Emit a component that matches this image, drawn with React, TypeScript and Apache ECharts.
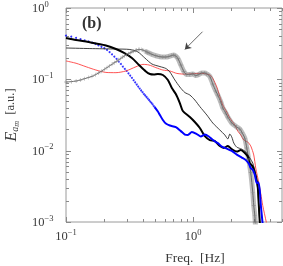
import React, { useEffect, useRef } from "react";
import * as echarts from "echarts";

// ---------- data (frequency in Hz, energy in a.u.) ----------
const blueDotFreq = [
  0.10, 0.11, 0.12, 0.13, 0.14, 0.15, 0.16, 0.17, 0.18, 0.19,
  0.20, 0.21, 0.22, 0.23, 0.24, 0.25, 0.26, 0.27, 0.28, 0.29,
  0.30, 0.31, 0.32, 0.33, 0.34, 0.35, 0.36, 0.37, 0.38, 0.39,
  0.40, 0.41, 0.42, 0.43, 0.44, 0.45, 0.46, 0.47, 0.48, 0.49, 0.50,
];
const blueDotValues = [
  0.411, 0.396, 0.382, 0.365, 0.351, 0.339, 0.328, 0.313, 0.300, 0.286,
  0.273, 0.258, 0.240, 0.224, 0.208, 0.193, 0.177, 0.164, 0.151, 0.140,
  0.131, 0.121, 0.113, 0.105, 0.0971, 0.0905, 0.0846, 0.0790, 0.0741, 0.0697,
  0.0659, 0.0622, 0.0593, 0.0565, 0.0538, 0.0513, 0.0487, 0.0466, 0.0445, 0.0422, 0.0405,
];
const blueLine: [number, number][] = [
  [0.50, 0.0405], [0.528, 0.0354], [0.548, 0.0316], [0.578, 0.0269], [0.610, 0.0240],
  [0.656, 0.0225], [0.731, 0.0214], [0.801, 0.0188], [0.861, 0.0168], [0.909, 0.0166],
  [0.977, 0.0182], [1.069, 0.0171], [1.149, 0.0158], [1.236, 0.0168], [1.328, 0.0158],
  [1.428, 0.0141], [1.563, 0.0128], [1.681, 0.0114], [1.839, 0.0107], [2.014, 0.0099],
  [2.205, 0.0088], [2.413, 0.0080], [2.594, 0.0074], [2.739, 0.0066], [2.84, 0.0057],
  [2.944, 0.0054], [3.053, 0.0046], [3.166, 0.0035], [3.25, 0.0036], [3.342, 0.0028],
  [3.40, 0.0018], [3.467, 0.00125], [3.53, 0.0009],
];
const blackThick: [number, number][] = [
  [0.1, 0.380], [0.120, 0.356], [0.144, 0.339], [0.172, 0.318], [0.206, 0.298],
  [0.247, 0.266], [0.286, 0.234], [0.330, 0.199], [0.375, 0.159], [0.425, 0.129],
  [0.457, 0.119], [0.491, 0.117], [0.528, 0.119], [0.578, 0.115], [0.633, 0.098],
  [0.680, 0.0755], [0.731, 0.0622], [0.786, 0.0465], [0.830, 0.036], [0.942, 0.0296],
  [1.031, 0.0252], [1.129, 0.0208], [1.236, 0.0160], [1.353, 0.0141], [1.481, 0.0136],
  [1.621, 0.0116], [1.743, 0.0109], [1.873, 0.0116], [2.014, 0.0105], [2.204, 0.0097],
  [2.37, 0.0102], [2.547, 0.0093], [2.69, 0.0083], [2.789, 0.0067], [2.944, 0.0060],
  [3.108, 0.0044], [3.222, 0.0031], [3.28, 0.0018], [3.342, 0.0010], [3.37, 0.00088],
];
const blackThin: [number, number][] = [
  [0.1, 0.275], [0.154, 0.270], [0.247, 0.266], [0.318, 0.262], [0.368, 0.242],
  [0.417, 0.199], [0.474, 0.164], [0.548, 0.151], [0.610, 0.142], [0.656, 0.127],
  [0.718, 0.098], [0.786, 0.078], [0.861, 0.0653], [0.942, 0.0603], [1.031, 0.0513],
  [1.129, 0.0415], [1.282, 0.0316], [1.428, 0.0244], [1.621, 0.0195], [1.775, 0.0166],
  [1.873, 0.0146], [1.943, 0.0171], [2.014, 0.0155], [2.088, 0.0128], [2.204, 0.0112],
  [2.413, 0.0105], [2.594, 0.0096], [2.789, 0.0079], [2.944, 0.0067], [3.108, 0.0046],
  [3.222, 0.0028], [3.28, 0.0017], [3.342, 0.0010], [3.37, 0.00088],
];
const redLine: [number, number][] = [
  [0.1, 0.181], [0.120, 0.168], [0.144, 0.150], [0.172, 0.135], [0.206, 0.125],
  [0.247, 0.124], [0.296, 0.131], [0.355, 0.150], [0.403, 0.162], [0.449, 0.159],
  [0.509, 0.146], [0.578, 0.135], [0.656, 0.131], [0.745, 0.121], [0.892, 0.118],
  [1.069, 0.121], [1.192, 0.121], [1.353, 0.115], [1.428, 0.103], [1.536, 0.078],
  [1.621, 0.0574], [1.712, 0.0436], [1.839, 0.0348], [1.943, 0.0287], [2.127, 0.0229],
  [2.245, 0.0188], [2.37, 0.0166], [2.502, 0.0141], [2.69, 0.0132], [2.84, 0.0116],
  [2.998, 0.0087], [3.108, 0.0057], [3.28, 0.0036], [3.403, 0.0025], [3.528, 0.0017],
  [3.76, 0.0010], [3.85, 0.0008],
];
const grayLowFreq = [
  0.10, 0.11, 0.12, 0.13, 0.14, 0.15, 0.16, 0.17, 0.18, 0.19,
  0.20, 0.21, 0.22, 0.23, 0.24, 0.25, 0.26, 0.27, 0.28, 0.29,
  0.30, 0.31, 0.32, 0.33, 0.34, 0.35, 0.36, 0.37, 0.38, 0.39,
  0.40, 0.41, 0.42, 0.43, 0.44, 0.45,
];
const grayLowValues = [
  0.0916, 0.0928, 0.0947, 0.0978, 0.1019, 0.106, 0.1102, 0.1156, 0.1226, 0.1299,
  0.138, 0.1459, 0.1542, 0.1623, 0.1709, 0.1794, 0.1877, 0.1964, 0.2055, 0.215,
  0.222, 0.2286, 0.2353, 0.2415, 0.247, 0.2527, 0.2576, 0.2618, 0.2618, 0.261,
  0.2585, 0.2535, 0.2486, 0.243, 0.2384, 0.2338,
];
const grayHigh: [number, number][] = [
  [0.474, 0.224], [0.509, 0.214], [0.548, 0.2075], [0.578, 0.2055], [0.610, 0.2055],
  [0.644, 0.209], [0.680, 0.216], [0.705, 0.219], [0.731, 0.212], [0.759, 0.196],
  [0.801, 0.159], [0.845, 0.129], [0.892, 0.117], [0.942, 0.117], [0.995, 0.119],
  [1.050, 0.113], [1.109, 0.117], [1.170, 0.123], [1.236, 0.123], [1.282, 0.119],
  [1.353, 0.110], [1.428, 0.086], [1.508, 0.0685], [1.563, 0.0603], [1.65, 0.0481],
  [1.712, 0.0396], [1.807, 0.0337], [1.873, 0.0296], [2.014, 0.0244], [2.127, 0.0225],
  [2.204, 0.0214], [2.327, 0.0201], [2.413, 0.0182], [2.547, 0.0150], [2.642, 0.0109],
  [2.739, 0.0074], [2.84, 0.0049], [2.944, 0.0026], [2.998, 0.0017], [3.053, 0.00125],
  [3.08, 0.0010], [3.108, 0.00077],
];

const xMin = 0.1;
const xMax = 5;
const yMin = 0.001;
const yMax = 1;
const xMajorTicks = [0.1, 1];
const xMinorTicks = [0.2, 0.3, 0.4, 0.5, 0.6, 0.7, 0.8, 0.9, 2, 3, 4, 5];
const yMajorTicks = [0.001, 0.01, 0.1, 1];
const yMinorTicks = [
  0.002, 0.003, 0.004, 0.005, 0.006, 0.007, 0.008, 0.009,
  0.02, 0.03, 0.04, 0.05, 0.06, 0.07, 0.08, 0.09,
  0.2, 0.3, 0.4, 0.5, 0.6, 0.7, 0.8, 0.9,
];
const arrowFrom: [number, number] = [1.185, 0.465];
const arrowTo: [number, number] = [0.861, 0.263];

const SERIF = '"Liberation Serif", "DejaVu Serif", serif';
const TEXT = "#3a3a3a";
const TICK = "#8a8a8a";

const powLabel = (value: number) => {
  const e = Math.log10(value);
  const r = Math.round(e);
  if (Math.abs(e - r) > 1e-6) return "";
  const s = r < 0 ? "\u2212" + -r : String(r);
  return "{b|10}{s|" + s + "}";
};
const labelRich = {
  b: { fontFamily: SERIF, fontSize: 12.5, color: TEXT, lineHeight: 18 },
  s: { fontFamily: SERIF, fontSize: 8.5, color: TEXT, verticalAlign: "top", lineHeight: 10 },
};

const plusSymbol = "path://M4.5,0H5.5V4.5H10V5.5H5.5V10H4.5V5.5H0V4.5H4.5Z";

export default function App() {
  const ref = useRef<HTMLDivElement>(null);
  useEffect(() => {
    if (!ref.current) return;
    const chart = echarts.init(ref.current, null, { renderer: "svg" });
    const grayLow = grayLowFreq.map((f, i) => [f, grayLowValues[i]]);
    const grayAll = [...grayLow, ...grayHigh];
    const grayBand = [...grayLow.slice(32), ...grayHigh];
    const blueDots = blueDotFreq.map((f, i) => [f, blueDotValues[i]]);
    const xTickData = [
      ...xMajorTicks.map((v) => [v, yMin, 1]),
      ...xMinorTicks.map((v) => [v, yMin, 0]),
    ];
    const yTickData = [
      ...yMajorTicks.map((v) => [xMin, v, 1]),
      ...yMinorTicks.map((v) => [xMin, v, 0]),
    ];
    const lineBase = { type: "line", showSymbol: false, smooth: 0.25, silent: true, clip: true };

    chart.setOption({
      animation: false,
      grid: {
        left: 66, right: 1, top: 8, bottom: 44,
        show: true, borderColor: "#9a9a9a", borderWidth: 1,
        containLabel: false, outerBoundsMode: "none",
      },
      xAxis: {
        type: "log", logBase: 10, min: xMin, max: xMax,
        axisLine: { show: false }, axisTick: { show: false }, splitLine: { show: false },
        axisLabel: { formatter: powLabel, rich: labelRich, margin: 5 },
      },
      yAxis: {
        type: "log", logBase: 10, min: yMin, max: yMax,
        axisLine: { show: false }, axisTick: { show: false }, splitLine: { show: false },
        axisLabel: { formatter: powLabel, rich: labelRich, margin: 34, align: "left" },
        name: "{e|E}{a|a}{m|m}{t|  [a.u.]}",
        nameLocation: "middle", nameGap: 46, nameRotate: 90,
        nameTextStyle: {
          rich: {
            e: { fontFamily: SERIF, fontStyle: "italic", fontSize: 16, color: TEXT, lineHeight: 20 },
            a: { fontFamily: SERIF, fontStyle: "italic", fontSize: 10, color: TEXT, verticalAlign: "bottom", lineHeight: 12, padding: [0, 0, 1, 0] },
            m: { fontFamily: SERIF, fontStyle: "italic", fontSize: 8, color: TEXT, verticalAlign: "bottom", lineHeight: 9 },
            t: { fontFamily: SERIF, fontSize: 12.5, color: TEXT, lineHeight: 20 },
          },
        },
      },
      graphic: [
        { type: "text", left: 82, top: 14, style: { text: "(b)", font: "bold 16px " + SERIF, fill: "#333" } },
        {
          type: "text", x: 195, y: 257,
          style: { text: "Freq.  [Hz]", font: "13.5px " + SERIF, fill: TEXT, align: "center", verticalAlign: "middle" },
        },
      ],
      series: [
        { ...lineBase, name: "red", data: redLine, lineStyle: { color: "#ff4040", width: 0.9 } },
        { ...lineBase, name: "grayBand", data: grayBand, lineStyle: { color: "rgba(95,95,95,0.42)", width: 5 } },
        {
          ...lineBase, name: "gray", data: grayAll, showSymbol: true, symbol: plusSymbol, symbolSize: 4,
          itemStyle: { color: "#808080" }, lineStyle: { color: "#5e5e5e", width: 0.9 },
        },
        {
          ...lineBase, name: "thin", data: blackThin, lineStyle: { color: "#2a2a2a", width: 0.9 },
          markLine: {
            silent: true, symbol: ["none", "arrow"], symbolSize: 6,
            label: { show: false },
            lineStyle: { color: "#444", width: 0.8, type: "solid" },
            data: [[{ coord: arrowFrom }, { coord: arrowTo }]],
          },
        },
        { ...lineBase, name: "thick", data: blackThick, lineStyle: { color: "#000", width: 2 } },
        { ...lineBase, name: "blueLine", data: blueLine, lineStyle: { color: "#0000ff", width: 2 } },
        {
          type: "scatter", name: "blueDots", data: blueDots, symbolSize: 2, silent: true,
          itemStyle: { color: "#0000ff" },
        },
        {
          type: "custom", name: "xTicks", data: xTickData, silent: true,
          renderItem: (params: any, api: any) => {
            const v = api.value(0);
            const len = api.value(2) === 1 ? 5 : 3;
            const b = api.coord([v, yMin]);
            const t = api.coord([v, yMax]);
            const x = Math.round(b[0]) + 0.5;
            const st = { stroke: TICK, lineWidth: 1 };
            return {
              type: "group",
              children: [
                { type: "line", shape: { x1: x, y1: b[1], x2: x, y2: b[1] - len }, style: st },
                { type: "line", shape: { x1: x, y1: t[1], x2: x, y2: t[1] + len }, style: st },
              ],
            };
          },
        },
        {
          type: "custom", name: "yTicks", data: yTickData, silent: true,
          renderItem: (params: any, api: any) => {
            const v = api.value(1);
            const len = api.value(2) === 1 ? 5 : 3;
            const l = api.coord([xMin, v]);
            const r = api.coord([xMax, v]);
            const y = Math.round(l[1]) + 0.5;
            const st = { stroke: TICK, lineWidth: 1 };
            return {
              type: "group",
              children: [
                { type: "line", shape: { x1: l[0], y1: y, x2: l[0] + len, y2: y }, style: st },
                { type: "line", shape: { x1: r[0], y1: y, x2: r[0] - len, y2: y }, style: st },
              ],
            };
          },
        },
      ],
    });
    return () => chart.dispose();
  }, []);
  return (
    <div
      ref={ref}
      style={{ position: "fixed", left: 0, top: 0, width: 283, height: 266 }}
    />
  );
}
